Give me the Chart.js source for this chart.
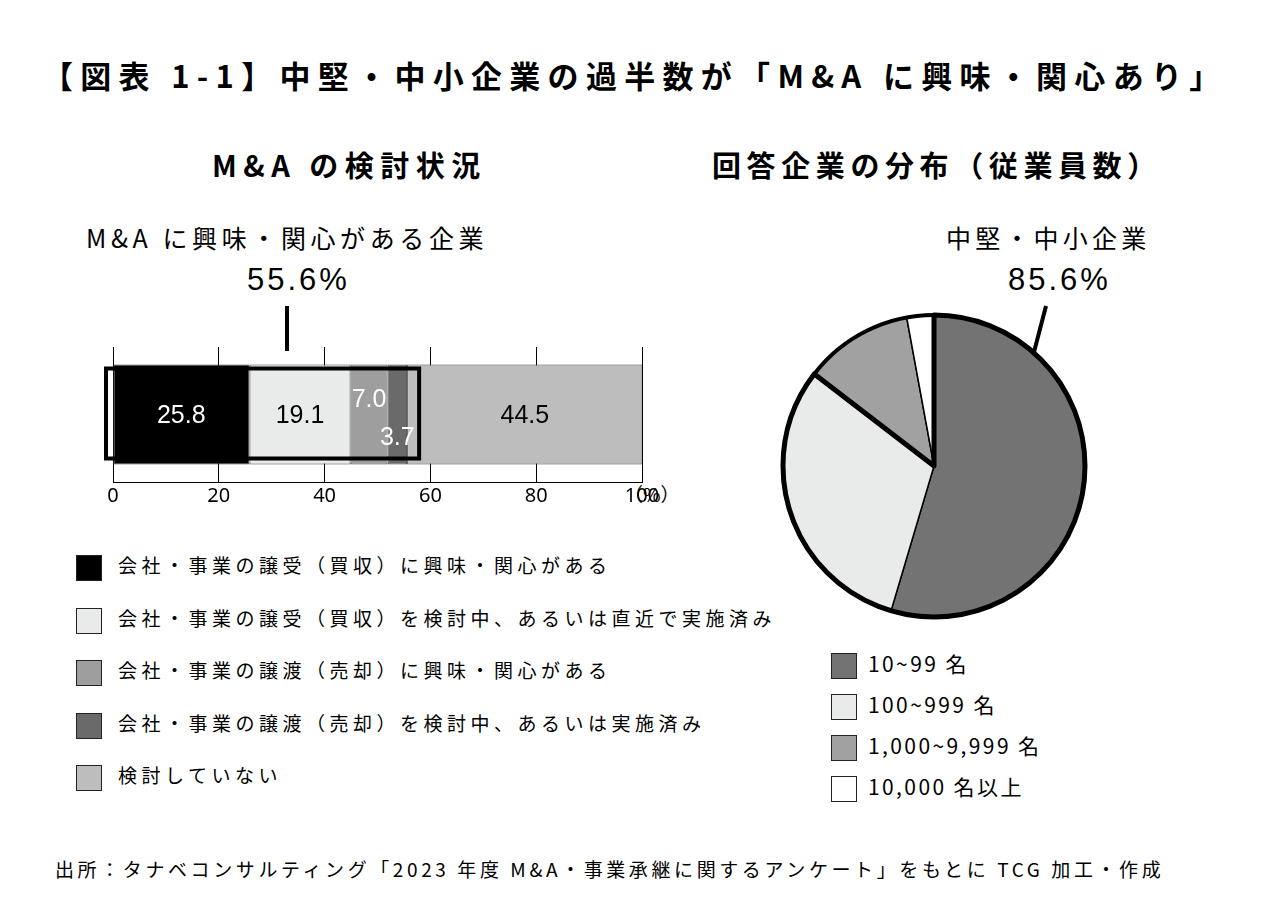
<!DOCTYPE html>
<html><head><meta charset="utf-8">
<script src="https://cdn.jsdelivr.net/npm/chart.js@4"></script>
<style>
body{margin:0;width:1261px;height:922px;background:#fff;font-family:"Noto Sans CJK JP","Noto Sans",sans-serif;color:#000;position:relative;overflow:hidden}
.t{position:absolute;white-space:nowrap}
.sq{position:absolute;width:26px;height:26px;border:1px solid #222;box-sizing:border-box}
</style></head><body>
<div class="t" style="left:42px;top:52px;font-size:31px;font-weight:bold;letter-spacing:7.3px">【図表 1-1】中堅・中小企業の過半数が「M&amp;A に興味・関心あり」</div>
<div class="t" style="left:212px;top:143px;font-size:29px;font-weight:bold;letter-spacing:6.5px">M&amp;A の検討状況</div>
<div class="t" style="left:712px;top:143px;font-size:29px;font-weight:bold;letter-spacing:5.6px">回答企業の分布（従業員数）</div>
<div class="t" style="left:86px;top:219px;font-size:25px;letter-spacing:4.6px">M&amp;A に興味・関心がある企業</div>
<div class="t" style="left:247px;top:262px;font-size:31px;font-family:'Liberation Sans';letter-spacing:3px">55.6%</div>
<div class="t" style="left:946px;top:219px;font-size:25px;letter-spacing:4.2px">中堅・中小企業</div>
<div class="t" style="left:1008px;top:262px;font-size:31px;font-family:'Liberation Sans';letter-spacing:3px">85.6%</div>
<div class="t" style="left:624px;top:480px;font-size:19px">（%）</div>
<div id="legL"></div><div id="legR"></div>
<div class="t" style="left:55px;top:855px;font-size:19px;letter-spacing:3.6px">出所：タナベコンサルティング「2023 年度 M&amp;A・事業承継に関するアンケート」をもとに TCG 加工・作成</div>
<canvas id="bar" width="640" height="170" style="position:absolute;left:60px;top:340px"></canvas>
<canvas id="pie" width="320" height="320" style="position:absolute;left:774px;top:306px"></canvas>
<svg style="position:absolute;left:0;top:0" width="1261" height="922">
<line x1="287" y1="306" x2="287" y2="351" stroke="#000" stroke-width="4"/>
<line x1="1046" y1="306" x2="1034" y2="352" stroke="#000" stroke-width="4"/>
</svg>
<script>
const barLabels=["会社・事業の譲受（買収）に興味・関心がある","会社・事業の譲受（買収）を検討中、あるいは直近で実施済み","会社・事業の譲渡（売却）に興味・関心がある","会社・事業の譲渡（売却）を検討中、あるいは実施済み","検討していない"];
const barValues=[25.8,19.1,7.0,3.7,44.5];
const barColors=["#000000","#e9eaea","#9d9e9d","#6a6a6a","#bcbdbc"];
const xTicks=[0,20,40,60,80,100];
const pieLabels=["10~99 名","100~999 名","1,000~9,999 名","10,000 名以上"];
const pieValues=[54.7,30.9,11.7,2.9];
const pieColors=["#737373","#e9eaea","#a0a1a0","#ffffff"];

let h='';barLabels.forEach((l,i)=>{const y=555+i*52.5;h+=`<div class="sq" style="left:76px;top:${y}px;background:${barColors[i]}"></div><div class="t" style="left:118px;top:${y-4}px;font-size:19px;letter-spacing:4.5px">${l}</div>`});
document.getElementById('legL').innerHTML=h;
h='';pieLabels.forEach((l,i)=>{const y=653+i*41;h+=`<div class="sq" style="left:831px;top:${y}px;background:${pieColors[i]}"></div><div class="t" style="left:868px;top:${y-5}px;font-size:21px;letter-spacing:2.4px">${l}</div>`});
document.getElementById('legR').innerHTML=h;

const barPlug={id:'bp',afterDatasetsDraw(c){const ctx=c.ctx,x=c.scales.x;
 let cum=0;ctx.save();ctx.font='25px "Liberation Sans"';ctx.textAlign='center';ctx.textBaseline='middle';
 const yc=c.getDatasetMeta(0).data[0].y;
 const tc=['#fff','#000','#fff','#fff','#000'];const dy=[0,0,-16,22,0];
 barValues.forEach((v,i)=>{const m=x.getPixelForValue(cum+v/2);ctx.fillStyle=tc[i];ctx.fillText(v.toFixed(1),m,yc+dy[i]+2);cum+=v;});
 const x0=x.getPixelForValue(0)-7,x1=x.getPixelForValue(55.6)+12;
 ctx.lineWidth=4;ctx.strokeStyle='#000';ctx.strokeRect(x0,yc-46,x1-x0,90);ctx.restore();}};
new Chart(document.getElementById('bar'),{type:'bar',
 data:{labels:['a'],datasets:barValues.map((v,i)=>({label:barLabels[i],data:[v],backgroundColor:barColors[i],borderColor:'#444',borderWidth:1,borderSkipped:false,barPercentage:0.74,categoryPercentage:1}))},
 options:{responsive:false,animation:false,indexAxis:'y',devicePixelRatio:1,
  layout:{padding:{left:53,right:58,top:7,bottom:0}},
  plugins:{legend:{display:false},tooltip:{enabled:false}},
  scales:{x:{stacked:true,min:0,max:100,afterBuildTicks:s=>{s.ticks=xTicks.map(v=>({value:v}))},
    grid:{color:'#000',lineWidth:1,tickLength:0},border:{color:'#000',width:1},
    ticks:{color:'#000',font:{size:20,family:'Noto Sans'},padding:2,maxRotation:0}},
   y:{stacked:true,display:false}}},
 plugins:[barPlug]});

const piePlug={id:'pp',afterDatasetsDraw(c){const ctx=c.ctx,a=c.getDatasetMeta(0).data;const cx=a[0].x,cy=a[0].y,r=a[0].outerRadius;
 const s=a[0].startAngle,e=a[1].endAngle;ctx.save();ctx.lineWidth=5;ctx.strokeStyle='#000';ctx.lineJoin='round';
 ctx.beginPath();ctx.moveTo(cx,cy);ctx.arc(cx,cy,r,s,e);ctx.closePath();ctx.stroke();
 ctx.lineWidth=4;ctx.beginPath();ctx.arc(cx,cy,r,e,s+Math.PI*2);ctx.stroke();ctx.restore();}};
new Chart(document.getElementById('pie'),{type:'pie',
 data:{labels:pieLabels,datasets:[{data:pieValues,backgroundColor:pieColors,borderColor:'#000',borderWidth:1.5,radius:151}]},
 options:{responsive:false,animation:false,devicePixelRatio:1,layout:{padding:0},plugins:{legend:{display:false},tooltip:{enabled:false}}},
 plugins:[piePlug]});
</script>
</body></html>
